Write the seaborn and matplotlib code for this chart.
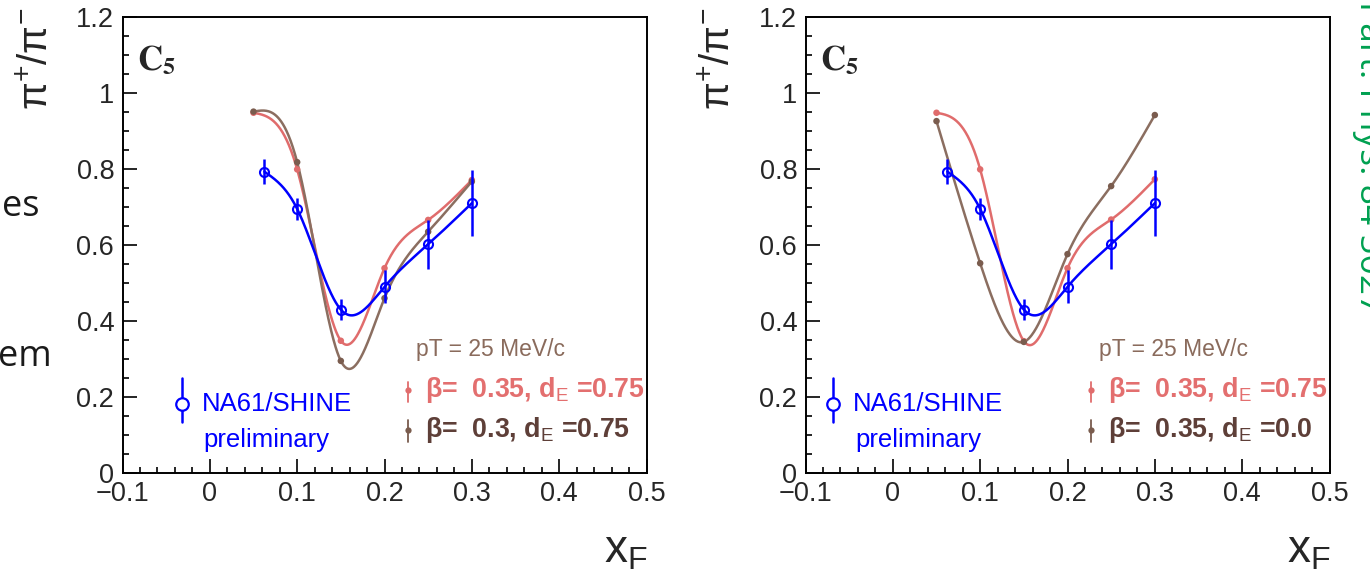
import numpy as np
import pandas as pd
import matplotlib
matplotlib.use("Agg")
import matplotlib.pyplot as plt
import seaborn as sns
from matplotlib.ticker import FixedLocator, FixedFormatter, MultipleLocator

# ---------------- data ----------------
x_ticks = [-0.1, 0.0, 0.1, 0.2, 0.3, 0.4, 0.5]
x_tick_labels = ["\u22120.1", "0", "0.1", "0.2", "0.3", "0.4", "0.5"]
y_ticks = [0.0, 0.2, 0.4, 0.6, 0.8, 1.0, 1.2]
y_tick_labels = ["0", "0.2", "0.4", "0.6", "0.8", "1", "1.2"]

x_data = [0.0625, 0.1, 0.15, 0.2, 0.25, 0.3]
y_data = [0.793, 0.695, 0.430, 0.490, 0.602, 0.710]
err_data = [0.033, 0.029, 0.027, 0.043, 0.064, 0.087]

x_model = [0.05, 0.1, 0.15, 0.2, 0.25, 0.3]
left_red = [0.948, 0.799, 0.348, 0.539, 0.666, 0.771]
left_brown = [0.951, 0.818, 0.295, 0.460, 0.635, 0.767]
right_red = [0.948, 0.799, 0.347, 0.539, 0.667, 0.773]
right_brown = [0.926, 0.552, 0.345, 0.576, 0.755, 0.942]

data_label = ["NA61/SHINE", "preliminary"]
left_labels = ["\u03b2=  0.35, d$_{\\mathrm{E}}$ =0.75", "\u03b2=  0.3, d$_{\\mathrm{E}}$ =0.75"]
right_labels = ["\u03b2=  0.35, d$_{\\mathrm{E}}$ =0.75", "\u03b2=  0.35, d$_{\\mathrm{E}}$ =0.0"]
pt_label = "pT = 25 MeV/c"
y_title = "\u03c0$^{+}$/\u03c0$^{-}$"
x_title = "x$_{\\mathrm{F}}$"
panel_tag = r"$\mathbf{C}_{\mathbf{5}}$"

# ---------------- style ----------------
sns.set_theme(style="white")
plt.rcParams["font.family"] = ["Liberation Sans", "DejaVu Sans"]
plt.rcParams["mathtext.fontset"] = "custom"
plt.rcParams["mathtext.rm"] = "Liberation Sans"
plt.rcParams["mathtext.it"] = "Liberation Sans:italic"
plt.rcParams["mathtext.bf"] = "Liberation Sans:bold"

BLUE = "#0000FF"
RED = "#E06C6C"
BROWN = "#8B6E60"
RED_TXT = "#E36F6F"
BROWN_TXT = "#5E3F38"
BROWN_PT = "#7A5C4E"
PT_TXT = "#8A6B5C"

W, H = 1370, 576
fig = plt.figure(figsize=(W / 100, H / 100), dpi=100)
fig.patch.set_facecolor("white")

XR = (-0.1, 0.5)
YR = (0.0, 1.2)
AXW, AXH = 524, 456


def natural_spline(t, y, tt):
    t = np.asarray(t, float)
    y = np.asarray(y, float)
    n = len(t)
    h = np.diff(t)
    A = np.zeros((n, n))
    r = np.zeros(n)
    A[0, 0] = 1.0
    A[-1, -1] = 1.0
    for i in range(1, n - 1):
        A[i, i - 1] = h[i - 1]
        A[i, i] = 2 * (h[i - 1] + h[i])
        A[i, i + 1] = h[i]
        r[i] = 6 * ((y[i + 1] - y[i]) / h[i] - (y[i] - y[i - 1]) / h[i - 1])
    M = np.linalg.solve(A, r)
    idx = np.clip(np.searchsorted(t, tt) - 1, 0, n - 2)
    t0, t1 = t[idx], t[idx + 1]
    hh = t1 - t0
    a = (t1 - tt) / hh
    b = (tt - t0) / hh
    return (a * y[idx] + b * y[idx + 1]
            + ((a ** 3 - a) * M[idx] + (b ** 3 - b) * M[idx + 1]) * hh ** 2 / 6)


def smooth_curve(xs, ys, n=400):
    xs = np.asarray(xs, float)
    xx = np.linspace(xs[0], xs[-1], n)
    return xx, natural_spline(xs, ys, xx)


def style_axes(ax):
    ax.set_xlim(*XR)
    ax.set_ylim(*YR)
    ax.set_facecolor("white")
    for s in ax.spines.values():
        s.set_visible(True)
        s.set_color("black")
        s.set_linewidth(1.4)
    ax.xaxis.set_major_locator(FixedLocator(x_ticks))
    ax.xaxis.set_major_formatter(FixedFormatter(x_tick_labels))
    ax.yaxis.set_major_locator(FixedLocator(y_ticks))
    ax.yaxis.set_major_formatter(FixedFormatter(y_tick_labels))
    ax.xaxis.set_minor_locator(MultipleLocator(0.02))
    ax.yaxis.set_minor_locator(MultipleLocator(0.05))
    ax.tick_params(which="both", direction="in", top=False, right=False,
                   left=True, bottom=True, color="black", width=1.2)
    ax.tick_params(which="major", length=10, labelsize=19.5, pad=6)
    ax.tick_params(which="minor", length=4.5)
    ax.set_xlabel("")
    ax.set_ylabel("")


def draw_panel(left_px, red_vals, brown_vals, labels, leg_dx):
    ax = fig.add_axes([left_px / W, (H - 473) / H, AXW / W, AXH / H])
    rows = []
    for name, vals in (("red", red_vals), ("brown", brown_vals), ("blue", y_data)):
        xs = x_data if name == "blue" else x_model
        cx, cy = smooth_curve(xs, vals)
        rows.append(pd.DataFrame({"x": cx, "y": cy, "series": name}))
    curves = pd.concat(rows, ignore_index=True)
    sns.lineplot(data=curves[curves.series != "blue"], x="x", y="y", hue="series",
                 palette={"red": RED, "brown": BROWN}, sort=False, estimator=None,
                 linewidth=1.8, legend=False, ax=ax)
    pts = pd.DataFrame({"x": x_model * 2, "y": list(red_vals) + list(brown_vals),
                        "series": ["red"] * len(x_model) + ["brown"] * len(x_model)})
    sns.scatterplot(data=pts, x="x", y="y", hue="series", palette={"red": RED, "brown": BROWN_PT},
                    s=22, edgecolor="none", legend=False, ax=ax, zorder=3)
    sns.lineplot(data=curves[curves.series == "blue"], x="x", y="y", color=BLUE,
                 sort=False, estimator=None, linewidth=1.8, legend=False, ax=ax)
    ax.errorbar(x_data, y_data, yerr=err_data, fmt="o", color=BLUE, mfc="none",
                mec=BLUE, ms=6.5, mew=1.5, elinewidth=1.8, capsize=0, zorder=4)
    style_axes(ax)

    ax.text(0.028, 0.905, panel_tag, transform=ax.transAxes,
            fontsize=25, math_fontfamily="stix", ha="left", va="center")

    tr = ax.transAxes
    lx = leg_dx
    ax.plot([lx, lx], [0.112, 0.208], color=BLUE, lw=1.8, transform=tr, clip_on=False)
    ax.plot([lx], [0.151], marker="o", mfc="white", mec=BLUE, ms=9, mew=1.6,
            transform=tr, clip_on=False)
    ax.text(lx + 0.038, 0.151, data_label[0], color=BLUE, fontsize=18.5,
            transform=tr, ha="left", va="center")
    ax.text(lx + 0.042, 0.072, data_label[1], color=BLUE, fontsize=18.5,
            transform=tr, ha="left", va="center")

    mx = 0.545
    for yc, yb0, yb1, col, ptcol, lab in ((0.182, 0.155, 0.200, RED_TXT, RED, labels[0]),
                                           (0.094, 0.068, 0.116, BROWN_TXT, BROWN_PT, labels[1])):
        ax.plot([mx, mx], [yb0, yb1], color=ptcol, lw=1.3, transform=tr, clip_on=False)
        ax.plot([mx], [yc], marker="o", color=ptcol, ms=4.5, mew=0, transform=tr)
        ax.text(mx + 0.033, yc, lab, color=col, fontsize=19.3, fontweight="bold",
                transform=tr, ha="left", va="center")
    ax.text(0.56, 0.27, pt_label, color=PT_TXT, fontsize=16.5, transform=tr,
            ha="left", va="center")
    return ax


axL = draw_panel(122.5, left_red, left_brown, left_labels, 0.113)
axR = draw_panel(805.5, right_red, right_brown, right_labels, 0.053)

for x_left, x_right in ((122.5, 648), (805.5, 1331)):
    fig.text((x_left - 86) / W, 1 - 8 / H, y_title,
             rotation=90, fontsize=29, ha="center", va="top")
    fig.text(x_right / W, 4 / H, x_title, fontsize=33, ha="right", va="bottom")

fig.text(2 / W, 1 - 216 / H, "es", fontsize=26, family=["Open Sans", "DejaVu Sans"],
         color="#1a1a1a", ha="left", va="baseline")
fig.text(-2 / W, 1 - 366 / H, "em", fontsize=26, family=["Open Sans", "DejaVu Sans"],
         color="#1a1a1a", ha="left", va="baseline")
fig.text(1360 / W, 1 - 1 / H, "Part. Phys. 84 5027", fontsize=25.5,
         family=["Open Sans", "DejaVu Sans"], color="#00A050", rotation=-90,
         rotation_mode="anchor", ha="left", va="baseline")

fig.savefig("out.png", dpi=100, facecolor="white")
